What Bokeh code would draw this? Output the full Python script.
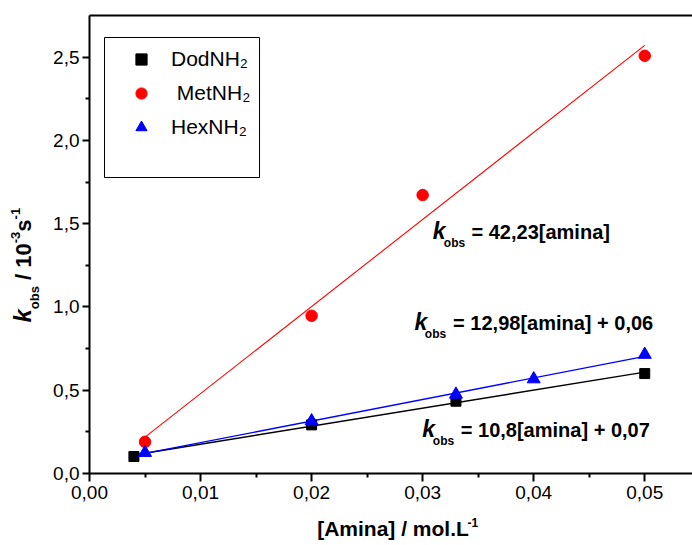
import math
import numpy as np
from bokeh.plotting import figure
from bokeh.models import (Range1d, FixedTicker, LinearAxis, Label, Legend,
                          LegendItem, BoxAnnotation)
from bokeh.embed import file_html
from bokeh.resources import INLINE

# ---------------- data ----------------
dod_x = [0.004, 0.02, 0.033, 0.05]
dod_y = [0.102, 0.292, 0.434, 0.600]

met_x = [0.005, 0.02, 0.03, 0.05]
met_y = [0.19, 0.947, 1.672, 2.508]

hex_x = [0.005, 0.02, 0.033, 0.04, 0.05]
hex_y = [0.125, 0.315, 0.475, 0.567, 0.714]

x_ticks = [0.0, 0.01, 0.02, 0.03, 0.04, 0.05]
x_tick_labels = ["0,00", "0,01", "0,02", "0,03", "0,04", "0,05"]
x_minor = [0.005, 0.015, 0.025, 0.035, 0.045]

y_ticks = [0.0, 0.5, 1.0, 1.5, 2.0, 2.5]
y_tick_labels = ["0,0", "0,5", "1,0", "1,5", "2,0", "2,5"]
y_minor = [0.25, 0.75, 1.25, 1.75, 2.25]

series_names = ["DodNH\u2082", "\u00a0MetNH\u2082", "HexNH\u2082"]
eq_texts = ["= 42,23[amina]", "= 12,98[amina] + 0,06", "= 10,8[amina] + 0,07"]

# ---------------- geometry ----------------
W, H = 692, 545
AX_LEFT, AX_TOP, AX_BOTTOM = 89, 15, 473      # canvas px of the axes box
X_TOP, Y_TOP = 0.0543, 2.75                   # data value at right / top edge
PXX = (W - AX_LEFT) / X_TOP
PXY = (AX_BOTTOM - AX_TOP) / Y_TOP
X_START = -AX_LEFT / PXX
X_END = (W - AX_LEFT) / PXX
Y_START = -(H - AX_BOTTOM) / PXY
Y_END = AX_BOTTOM / PXY
FONT = "Liberation Sans"
MID = 0.3465   # (ascent - descent) / 2 for Liberation Sans, in em


def dx(px):
    return X_START + px / PXX


def dy(py):
    return Y_END - py / PXY


p = figure(width=W, height=H,
           x_range=Range1d(X_START, X_END), y_range=Range1d(Y_START, Y_END),
           output_backend="svg", toolbar_location=None,
           x_axis_location=None, y_axis_location=None,
           min_border=0, min_border_left=0, min_border_right=0,
           min_border_top=0, min_border_bottom=0)
p.outline_line_color = None
p.grid.visible = False
p.background_fill_color = "white"
p.border_fill_color = "white"


def style_axis(ax, tick_out, standoff):
    ax.axis_line_width = 2
    ax.axis_line_color = "black"
    ax.major_tick_line_width = 2
    ax.minor_tick_line_width = 2
    ax.major_tick_line_color = "black"
    ax.minor_tick_line_color = "black"
    ax.major_tick_in = 0
    ax.minor_tick_in = 0
    ax.major_tick_out = tick_out
    ax.minor_tick_out = 4
    ax.major_label_standoff = standoff
    ax.major_label_text_font = FONT
    ax.major_label_text_font_size = "19px"
    ax.major_label_text_color = "black"


xaxis = LinearAxis(fixed_location=0.0, bounds=(0.0, X_TOP),
                   ticker=FixedTicker(ticks=x_ticks, minor_ticks=x_minor),
                   major_label_overrides=dict(zip(x_ticks, x_tick_labels)))
style_axis(xaxis, 8, 4)
p.add_layout(xaxis, "below")

yaxis = LinearAxis(fixed_location=0.0, bounds=(0.0, Y_TOP),
                   ticker=FixedTicker(ticks=y_ticks, minor_ticks=y_minor),
                   major_label_overrides=dict(zip(y_ticks, y_tick_labels)))
style_axis(yaxis, 7, 3)
p.add_layout(yaxis, "left")

top_axis = LinearAxis(fixed_location=Y_TOP, bounds=(0.0, X_TOP),
                      ticker=FixedTicker(ticks=[], minor_ticks=[]),
                      axis_line_width=2, axis_line_color="black",
                      major_tick_out=0, major_tick_in=0,
                      minor_tick_out=0, minor_tick_in=0,
                      major_label_text_font_size="0px", major_label_standoff=0)
p.add_layout(top_axis, "above")


# ---------------- fit lines ----------------
def fit_line(xs, ys):
    m, b = np.polyfit(xs, ys, 1)
    xe = [min(xs), max(xs)]
    return xe, [m * x + b for x in xe]


fx, fy = fit_line(dod_x, dod_y)
p.line(fx, fy, line_color="black", line_width=1.4)
fx, fy = fit_line(met_x, met_y)
p.line(fx, fy, line_color="red", line_width=1.1)
fx, fy = fit_line(hex_x, hex_y)
p.line(fx, fy, line_color="blue", line_width=1.4)

# ---------------- markers ----------------
r_dod = p.scatter(dod_x, dod_y, marker="square", size=10, color="black")
r_met = p.scatter(met_x, met_y, marker="circle", size=11.5, color="red")
r_hex = p.scatter(hex_x, hex_y, marker="triangle", size=13, color="blue")

# ---------------- legend ----------------
box = BoxAnnotation(left=dx(104), right=dx(259), top=dy(37), bottom=dy(177),
                    fill_alpha=0, fill_color=None, line_color="black", line_width=1,
                    line_alpha=1)
p.add_layout(box)

legend = Legend(items=[LegendItem(label=series_names[0], renderers=[r_dod]),
                       LegendItem(label=series_names[1], renderers=[r_met]),
                       LegendItem(label=series_names[2], renderers=[r_hex])],
                location=(127, 404), glyph_width=28, glyph_height=28,
                label_height=28, spacing=6, padding=6, label_standoff=16,
                border_line_color=None, background_fill_alpha=0, margin=0,
                label_text_font=FONT, label_text_font_size="21px",
                label_text_color="black")
p.add_layout(legend, "center")


# ---------------- texts ----------------
def add_text(txt, px, py, size, style="bold", angle=0.0):
    # (px, py) is the wanted start of the baseline; the label is anchored at
    # the middle of its text box, so shift by (ascent - descent) / 2
    if angle == 0.0:
        py = py - MID * size
    else:
        px = px - MID * size
    p.add_layout(Label(x=dx(px), y=dy(py), text=txt, text_font=FONT,
                       text_font_size=f"{size}px", text_font_style=style,
                       text_align="left", text_baseline="middle",
                       angle=angle, text_color="black"))


# equations: (k x, baseline y, obs x, "=" x)
eq_pos = [(432.3, 238, 443.3, 471.0),
          (414.0, 329.5, 424.3, 452.6),
          (421.7, 436, 432.3, 460.3)]
for txt, (kx, by, ox, ex) in zip(eq_texts, eq_pos):
    add_text("k", kx, by, 23, "bold italic")
    add_text("obs", ox, by + 8.5, 12, "bold")
    add_text(txt, ex, by, 20, "bold")

# x axis label
add_text("[Amina] / mol.L", 316.7, 535, 21, "bold")
add_text("-1", 467.0, 526, 12, "bold")

# y axis label (rotated, reading upward)
A = math.pi / 2
yb = 30.5
ys = 322.0
add_text("k", yb, ys, 24, "bold italic", A)
ys -= 0.556 * 24
add_text("obs", yb + 8, ys, 13, "bold", A)
ys -= 1.778 * 13 + 0.278 * 22
add_text("/ 10", yb, ys, 22, "bold", A)
ys -= 1.668 * 22
add_text("-3", yb - 11, ys, 13, "bold", A)
ys -= 0.889 * 13
add_text("s", yb, ys, 22, "bold", A)
ys -= 0.556 * 22
add_text("-1", yb - 11, ys, 13, "bold", A)

open("out.html", "w").write(file_html(p, INLINE))
